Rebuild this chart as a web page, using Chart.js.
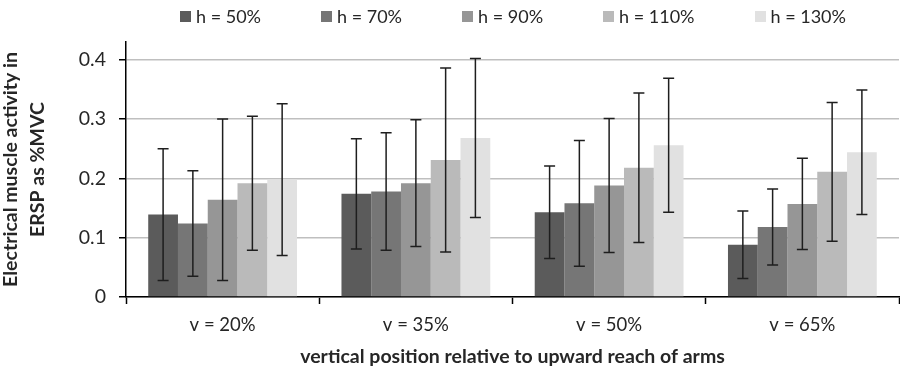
<!DOCTYPE html>
<html>
<head>
<meta charset="utf-8">
<script src="https://cdn.jsdelivr.net/npm/chart.js@4.4.1/dist/chart.umd.min.js"></script>
<style>
  html, body { margin: 0; padding: 0; background: #fff; }
  #wrap { position: relative; width: 900px; height: 371px; }
  #legend {
    position: absolute; left: 126px; top: 5px; width: 774px;
    display: flex; justify-content: center; gap: 60px;
    font-family: Lato, "Noto Sans", sans-serif; font-size: 18px; color: #262626;
  }
  #legend .item { display: flex; align-items: center; }
  #legend .box { width: 11px; height: 11px; margin-right: 5px; }
</style>
</head>
<body>
<div id="wrap">
  <canvas id="chart" width="900" height="371"></canvas>
  <div id="legend"></div>
</div>
<script>
// Nhóm theo vị trí đứng (v) và chiều cao (h)
const categories = ['v = 20%', 'v = 35%', 'v = 50%', 'v = 65%'];
const seriesLabels = ['h = 50%', 'h = 70%', 'h = 90%', 'h = 110%', 'h = 130%'];
const seriesColors = ['#5b5b5b', '#767676', '#969696', '#bababa', '#e1e1e1'];

// Giá trị trung bình
const meanH50 = [0.139, 0.174, 0.143, 0.088];
const meanH70 = [0.124, 0.178, 0.158, 0.118];
const meanH90 = [0.164, 0.192, 0.188, 0.157];
const meanH110 = [0.192, 0.231, 0.218, 0.211];
const meanH130 = [0.198, 0.268, 0.256, 0.244];

// Độ lệch chuẩn (thanh sai số)
const sdH50 = [0.111, 0.093, 0.078, 0.057];
const sdH70 = [0.089, 0.099, 0.106, 0.064];
const sdH90 = [0.136, 0.107, 0.113, 0.077];
const sdH110 = [0.113, 0.155, 0.126, 0.117];
const sdH130 = [0.128, 0.134, 0.113, 0.105];

const yTicks = [0, 0.1, 0.2, 0.3, 0.4];

const means = [meanH50, meanH70, meanH90, meanH110, meanH130];
const sds = [sdH50, sdH70, sdH90, sdH110, sdH130];

const FONT = 'Lato, "Noto Sans", sans-serif';

/**
 * Vẽ thanh sai số (± SD) cho từng cột
 */
const errorBarPlugin = {
  id: 'errorBars',
  afterDatasetsDraw(chart) {
    const { ctx } = chart;
    const yScale = chart.scales.y;
    ctx.save();
    ctx.strokeStyle = '#1e1e1e';
    ctx.lineWidth = 1.5;
    chart.data.datasets.forEach((ds, i) => {
      const meta = chart.getDatasetMeta(i);
      meta.data.forEach((bar, j) => {
        const v = ds.data[j];
        const sd = ds.errors[j];
        const yTop = yScale.getPixelForValue(v + sd);
        const yBot = yScale.getPixelForValue(v - sd);
        const cap = 5.5;
        ctx.beginPath();
        ctx.moveTo(bar.x, yTop);
        ctx.lineTo(bar.x, yBot);
        ctx.moveTo(bar.x - cap, yTop);
        ctx.lineTo(bar.x + cap, yTop);
        ctx.moveTo(bar.x - cap, yBot);
        ctx.lineTo(bar.x + cap, yBot);
        ctx.stroke();
      });
    });
    ctx.restore();
  }
};

/**
 * Chú thích dạng HTML, căn giữa theo vùng vẽ
 */
function buildLegend(chart) {
  const el = document.getElementById('legend');
  el.innerHTML = '';
  chart.data.datasets.forEach(ds => {
    const item = document.createElement('div');
    item.className = 'item';
    item.innerHTML = `<span class="box" style="background:${ds.backgroundColor}"></span><span>${ds.label}</span>`;
    el.appendChild(item);
  });
}

function initChart() {
  const datasets = seriesLabels.map((label, i) => ({
    label: label,
    data: means[i],
    errors: sds[i],
    backgroundColor: seriesColors[i],
    borderWidth: 0,
    categoryPercentage: 0.77,
    barPercentage: 1
  }));

  const chart = new Chart(document.getElementById('chart'), {
    type: 'bar',
    data: { labels: categories, datasets: datasets },
    plugins: [errorBarPlugin],
    options: {
      responsive: false,
      animation: false,
      layout: { padding: { top: 42, right: 1, left: 0, bottom: 0 } },
      plugins: {
        legend: { display: false },
        tooltip: { enabled: false }
      },
      scales: {
        x: {
          afterFit(scale) { scale.height = 74; },
          grid: {
            drawOnChartArea: false,
            offset: true,
            tickLength: 7,
            tickColor: '#000',
            tickWidth: 1.5
          },
          border: { color: '#000', width: 1.5 },
          ticks: {
            padding: 10,
            color: '#262626',
            font: { family: FONT, size: 18.5 }
          },
          title: {
            display: true,
            text: 'vertical position relative to upward reach of arms',
            color: '#262626',
            font: { family: FONT, size: 19.5, weight: 'bold' },
            padding: { top: 0, bottom: 3 }
          }
        },
        y: {
          min: 0,
          max: 0.43,
          afterFit(scale) { scale.width = 126; },
          afterBuildTicks(scale) {
            scale.ticks = yTicks.map(v => ({ value: v }));
          },
          grid: {
            color: '#bfbfbf',
            lineWidth: 1.5,
            tickLength: 7,
            tickColor: '#000',
            tickWidth: 1.5
          },
          border: { color: '#000', width: 1.5 },
          ticks: {
            padding: 13,
            color: '#262626',
            font: { family: FONT, size: 19.5 },
            callback: v => (v === 0 ? '0' : v.toFixed(1))
          },
          title: {
            display: true,
            text: ['Electrical muscle activity in', 'ERSP as %MVC'],
            color: '#262626',
            font: { family: FONT, size: 19.5, weight: 'bold', lineHeight: 1.4 },
            padding: { top: -3, bottom: 0 }
          }
        }
      }
    }
  });

  buildLegend(chart);
}

window.addEventListener('DOMContentLoaded', initChart);
</script>
</body>
</html>
